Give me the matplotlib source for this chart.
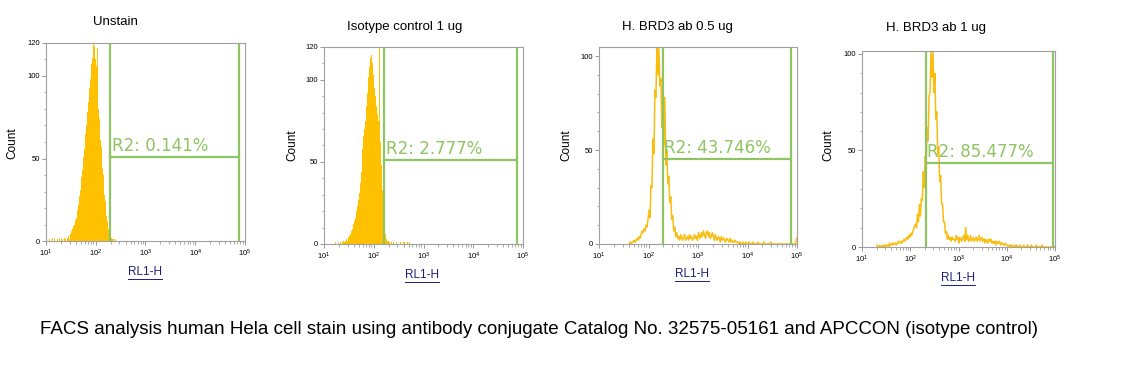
import matplotlib.pyplot as plt
import numpy as np
from matplotlib.lines import Line2D
from matplotlib.ticker import FixedLocator, LogLocator, LogFormatterSciNotation, NullFormatter

# channels are 0.02 decade wide on the RL1-H axis (10^1 .. 10^5)
BIN_STEP = 0.02

titles = ["Unstain", "Isotype control 1 ug", "H. BRD3 ab 0.5 ug", "H. BRD3 ab 1 ug"]
gate_labels = ["R2: 0.141%", "R2: 2.777%", "R2: 43.746%", "R2: 85.477%"]
gate_low = [195, 162, 195, 213]
gate_high = [75700, 75700, 75700, 93000]
gate_level = [51, 51, 45, 43.5]
y_max = [120, 120, 104.8, 101.5]
y_ticks = [[0, 50, 100, 120], [0, 50, 100, 120], [0, 50, 100], [0, 50, 100]]
counts_start = [1.00, 1.20, 1.60, 1.30]  # log10 of first listed channel

unstain_counts = [
    1, 0, 0, 1, 0, 0, 2, 0, 1, 0, 0, 1, 0, 2, 0, 1, 1, 0, 2, 1, 0, 2, 3, 1, 4,
    6, 7, 9, 10, 13, 14, 19, 22, 27, 31, 39, 43, 51, 56, 65, 70, 78, 84, 93, 98,
    107, 111, 120, 118, 110, 106, 117, 80, 74, 61, 57, 44, 40, 28, 24, 15, 12, 7,
    5, 3, 2, 1, 1, 0, 1,
]

isotype_counts = [
    0, 1, 0, 0, 1, 0, 1, 0, 1, 2, 1, 2, 3, 2, 4,
    5, 6, 8, 9, 12, 14, 16, 20, 23, 27, 31, 37, 44, 58, 66, 70, 75, 84, 92, 102,
    108, 113, 115, 110, 103, 95, 90, 84, 79, 75, 130, 62, 48, 33, 21, 11, 6, 3, 2,
    2, 1, 0, 1, 0, 1, 0, 0, 1, 0, 0, 0, 1, 0, 0, 1, 1, 0, 0, 1, 0, 1,
]

brd3_half_counts = [
    0, 1, 0, 1, 1, 2, 1, 2, 3, 2,
    4, 3, 5, 7, 6, 8, 7, 10, 9, 13,
    18, 14, 31, 30, 56, 48, 82, 78, 104, 90,
    104, 84, 88, 62, 72, 52, 78, 42, 50, 32,
    36, 22, 25, 13, 15, 7, 9, 4, 6, 3,
    4, 2, 5, 3, 2, 4, 5, 2, 3, 4,
    2, 5, 3, 4, 2, 3, 5, 3, 4, 2,
    6, 4, 3, 6, 4, 7, 5, 3, 6, 7,
    4, 6, 3, 4, 6, 4, 2, 5, 3, 2,
    4, 3, 1, 4, 2, 3, 3, 1, 2, 3,
    2, 1, 3, 1, 2, 1, 1, 2, 1, 1,
    1, 0, 1, 0, 0, 1, 0, 0, 1, 0,
    0, 1, 0, 0, 0, 1, 0, 0, 0, 0,
    1, 0, 0, 0, 0, 0, 1, 0, 0, 0,
    0, 0, 0, 1, 0, 0, 0, 0, 0, 0,
    0, 0, 0, 0, 0, 0, 0, 0, 0, 0,
    0, 0, 0, 0, 0, 0, 0, 0, 0, 3,
]

brd3_one_counts = [
    1, 0, 0, 1, 0, 0, 1, 0, 1, 0,
    1, 1, 0, 2, 1, 1, 2, 1, 2, 2,
    1, 2, 3, 2, 2, 3, 2, 3, 4, 3,
    4, 5, 4, 6, 5, 7, 6, 8, 9, 11,
    12, 10, 17, 13, 22, 16, 25, 24, 39, 31,
    47, 44, 62, 55, 78, 80, 101, 88, 101, 80,
    90, 66, 70, 48, 52, 34, 37, 22, 22, 13,
    13, 7, 8, 4, 6, 4, 5, 3, 5, 4,
    4, 3, 6, 4, 5, 2, 5, 4, 3, 5,
    6, 3, 10, 4, 6, 3, 4, 6, 3, 4,
    5, 3, 4, 5, 3, 4, 6, 3, 4, 5,
    3, 4, 2, 4, 3, 2, 4, 3, 4, 2,
    3, 2, 3, 1, 3, 2, 2, 3, 1, 2,
    2, 1, 1, 2, 1, 1, 0, 1, 1, 0,
    1, 0, 0, 1, 0, 1, 0, 0, 1, 0,
    0, 0, 1, 0, 0, 0, 1, 0, 0, 0,
    1, 0, 0, 0, 0, 1, 0, 0, 0, 0,
    0, 1, 0, 0, 0, 0, 0, 0, 0, 0,
    0, 0, 0, 0, 0,
]

all_counts = [unstain_counts, isotype_counts, brd3_half_counts, brd3_one_counts]
filled = [True, True, False, False]

caption = ("FACS analysis human Hela cell stain using antibody conjugate "
           "Catalog No. 32575-05161 and APCCON (isotype control)")

W, H = 1137, 366
GREEN = "#8fc462"
ORANGE = "#ffc000"

fig = plt.figure(figsize=(W / 100, H / 100), dpi=100)

# axes boxes in pixels: left, top, right, bottom
boxes = [(46, 43, 245, 241), (324, 47, 523, 244), (599, 47, 797, 244), (862, 51, 1055, 247)]
title_pos = [(115, 22), (405, 27), (677, 27), (936, 28)]
count_pos = [(12, 143), (292, 145), (566, 145), (828, 145)]
xlab_pos = [(145, 272), (422, 275), (692, 274), (958, 278)]

xlabels = []
for i in range(4):
    l, t, r, b = boxes[i]
    ax = fig.add_axes([l / W, 1 - b / H, (r - l) / W, (b - t) / H])
    counts = np.array(all_counts[i], dtype=float)
    idx = np.arange(len(counts))
    if filled[i]:
        edges = 10 ** (counts_start[i] + BIN_STEP * np.arange(len(counts) + 1))
        ax.stairs(counts, edges, fill=True, color=ORANGE, linewidth=0)
    else:
        centers = 10 ** (counts_start[i] + BIN_STEP * (idx + 0.5))
        ax.plot(centers, counts, color="#f9bd10", linewidth=1.1)

    # gate R2
    ax.axvline(gate_low[i], color=GREEN, linewidth=1.6)
    ax.axvline(gate_high[i], color=GREEN, linewidth=1.6)
    ax.plot([gate_low[i], gate_high[i]], [gate_level[i], gate_level[i]], color=GREEN, linewidth=1.6)
    ax.annotate(gate_labels[i], (gate_low[i], gate_level[i]), xytext=(1, 1.5),
                textcoords="offset points", ha="left", va="bottom",
                color=GREEN, fontsize=12, family="DejaVu Sans")

    ax.set_xscale("log")
    ax.set_xlim(10, 1e5)
    ax.set_ylim(0, y_max[i])
    ax.xaxis.set_major_locator(LogLocator(base=10))
    ax.xaxis.set_major_formatter(LogFormatterSciNotation())
    ax.xaxis.set_minor_locator(LogLocator(base=10, subs=np.arange(2, 10)))
    ax.xaxis.set_minor_formatter(NullFormatter())
    ax.yaxis.set_major_locator(FixedLocator(y_ticks[i]))
    ax.yaxis.set_minor_locator(FixedLocator(np.arange(0, y_max[i] + 0.1, 10)))
    ax.tick_params(which="major", length=3, width=0.6, color="#888888", labelsize=5.5, pad=1.5)
    ax.tick_params(which="minor", length=1.8, width=0.5, color="#888888")
    for lab in ax.get_xticklabels() + ax.get_yticklabels():
        lab.set_family("Liberation Sans")
    for s in ax.spines.values():
        s.set_color("#a0a0a0")
        s.set_linewidth(0.8)

    fig.text(title_pos[i][0] / W, 1 - title_pos[i][1] / H, titles[i], ha="center", va="center",
             fontsize=9.5, family="Liberation Sans")
    fig.text(count_pos[i][0] / W, 1 - count_pos[i][1] / H, "Count", ha="center", va="center",
             rotation=90, fontsize=8.5, family="Liberation Sans")
    xlabels.append(fig.text(xlab_pos[i][0] / W, 1 - xlab_pos[i][1] / H, "RL1-H", ha="center",
                            va="center", fontsize=8.5, family="Liberation Sans", color="#1f1f7a"))

fig.text(40 / W, 1 - 330 / H, caption, ha="left", va="center", fontsize=13.5, family="Liberation Sans")

# underline the axis labels like the original export
renderer = fig.canvas.get_renderer()
for t in xlabels:
    bb = t.get_window_extent(renderer).transformed(fig.transFigure.inverted())
    fig.add_artist(Line2D([bb.x0, bb.x1], [bb.y0 - 0.004, bb.y0 - 0.004], color="#1f1f7a", linewidth=0.7))

fig.savefig("out.png", dpi=100, facecolor="white")
